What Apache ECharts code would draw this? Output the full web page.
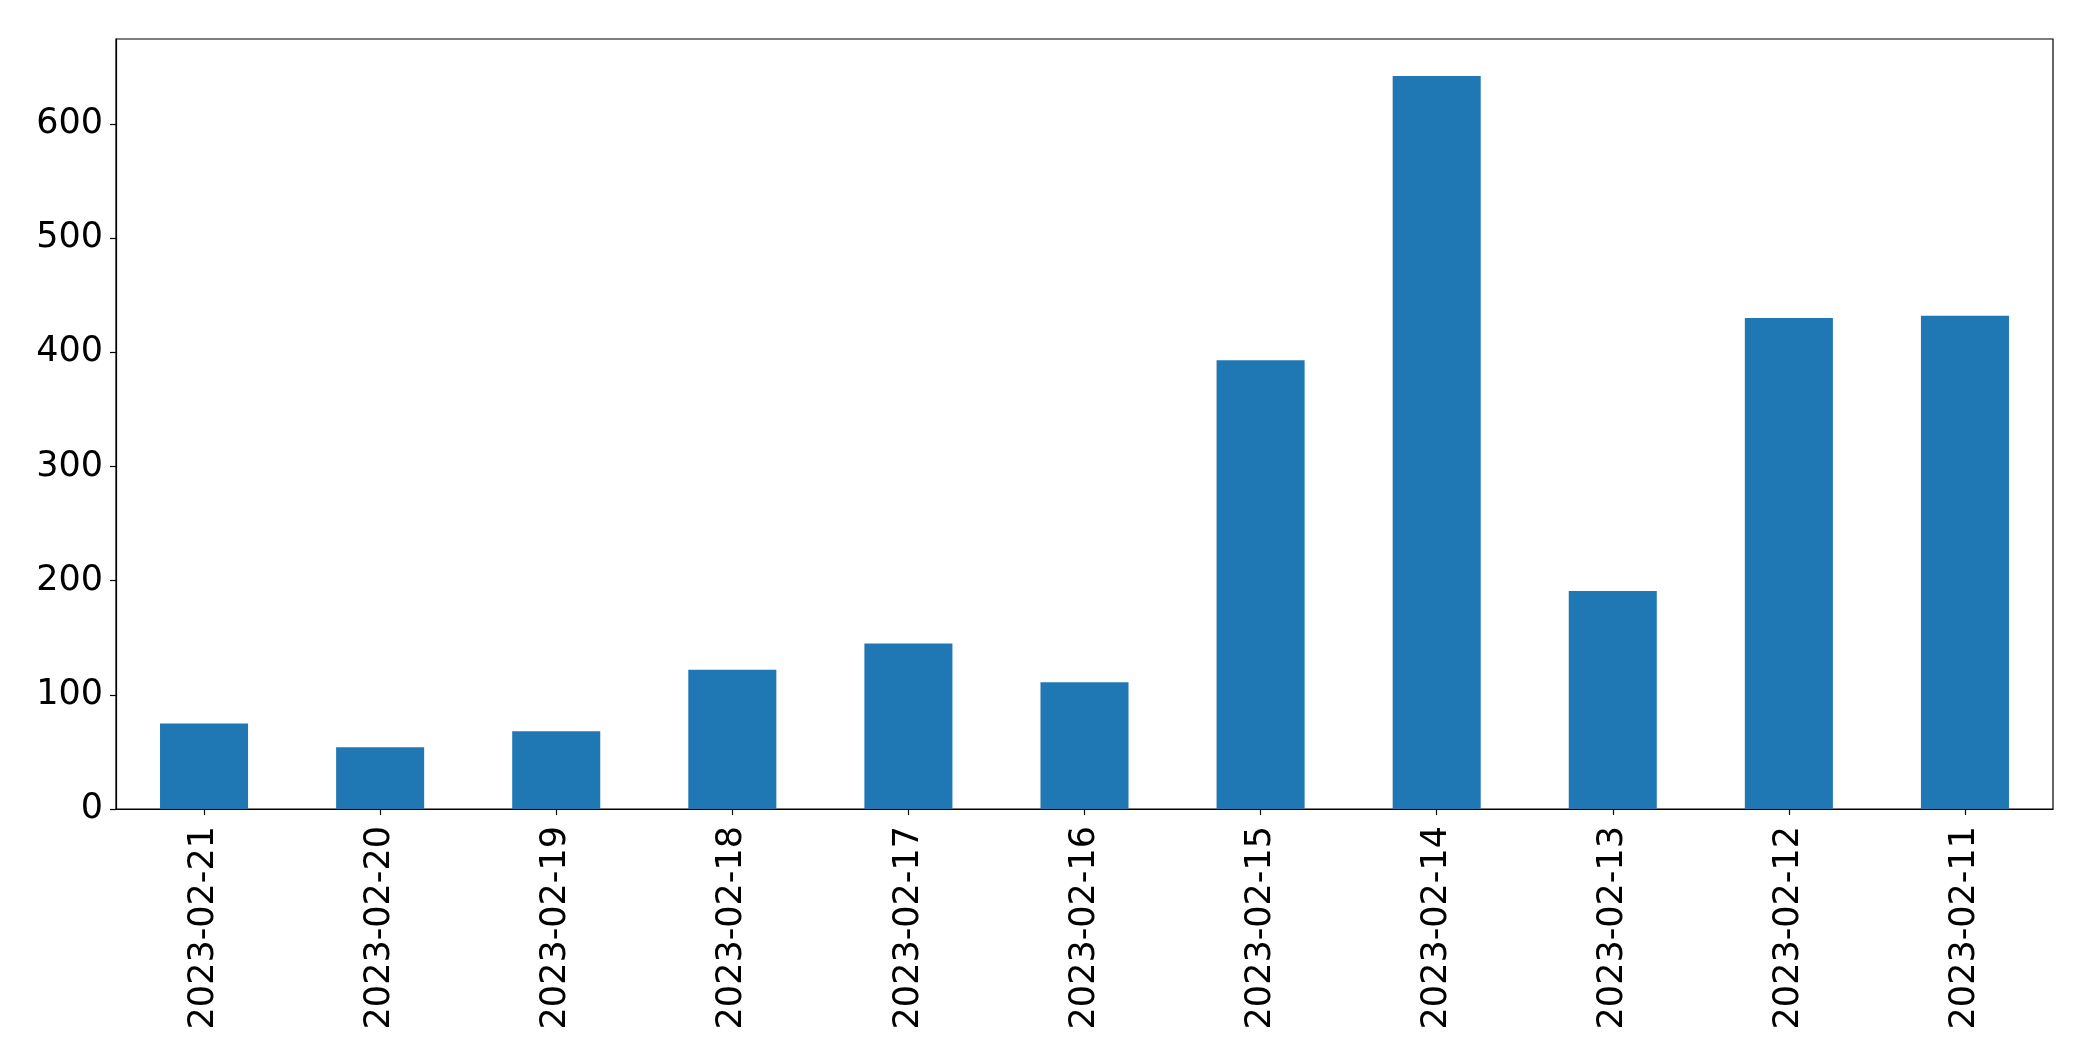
<!DOCTYPE html>
<html>
<head>
<meta charset="utf-8">
<script src="https://cdn.jsdelivr.net/npm/echarts@6/dist/echarts.min.js"></script>
<style>html,body{margin:0;padding:0;background:#fff;}#chart{width:2093px;height:1061px;}</style>
</head>
<body>
<div id="chart"></div>
<script>
const categories = ['2023-02-21','2023-02-20','2023-02-19','2023-02-18','2023-02-17','2023-02-16','2023-02-15','2023-02-14','2023-02-13','2023-02-12','2023-02-11'];
const values = [75, 54, 68, 122, 145, 111, 393, 642, 191, 430, 432];
const yTicks = [0, 100, 200, 300, 400, 500, 600];

const chart = echarts.init(document.getElementById('chart'));
chart.setOption({
  animation: false,
  backgroundColor: '#fff',
  grid: {left: 116, top: 39, right: 40, bottom: 252, show: true, borderColor: '#000', borderWidth: 1.2, backgroundColor: 'transparent'},
  xAxis: {
    type: 'category',
    data: categories,
    axisLine: {show: true, lineStyle: {color: '#000', width: 1.2}},
    axisTick: {show: true, alignWithLabel: true, length: 6, lineStyle: {color: '#000', width: 1.2}},
    axisLabel: {rotate: 90, margin: 17, color: '#000', fontSize: 35, fontFamily: 'DejaVu Sans', interval: 0},
    splitLine: {show: false}
  },
  yAxis: {
    type: 'value',
    min: 0,
    max: 674.5,
    interval: 100,
    axisLine: {show: true, lineStyle: {color: '#000', width: 1.2}},
    axisTick: {show: true, length: 6, customValues: yTicks, lineStyle: {color: '#000', width: 1.2}},
    axisLabel: {margin: 13, color: '#000', fontSize: 35, fontFamily: 'DejaVu Sans', customValues: yTicks,
      formatter: v => yTicks.indexOf(v) >= 0 ? String(v) : ''},
    splitLine: {show: false}
  },
  series: [{
    type: 'bar',
    data: values,
    barWidth: '50%',
    itemStyle: {color: '#1f77b4'}
  }]
});
</script>
</body>
</html>
